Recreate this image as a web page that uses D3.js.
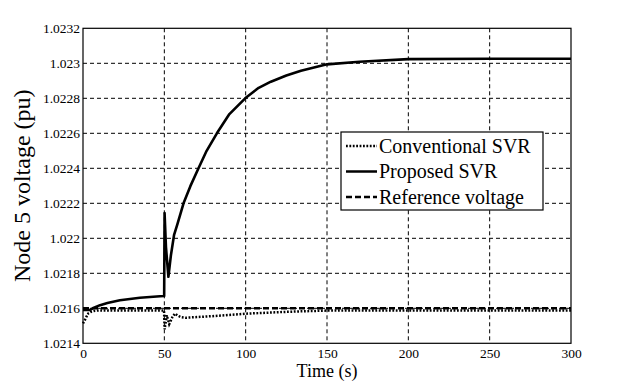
<!DOCTYPE html>
<html>
<head>
<meta charset="utf-8">
<title>Node 5 voltage</title>
<script src="https://cdn.jsdelivr.net/npm/d3@7"></script>
<style>
    body { margin: 0; background: #fff; }
    text { font-family: "Liberation Serif", "Times New Roman", serif; fill: #000; }
</style>
</head>
<body>
<svg id="chart" width="632" height="387"></svg>
<script>
    // values
    const xTicks = [0, 50, 100, 150, 200, 250, 300];
    const yTicks = [1.0214, 1.0216, 1.0218, 1.022, 1.0222, 1.0224, 1.0226, 1.0228, 1.023, 1.0232];
    const yTickLabels = ["1.0214", "1.0216", "1.0218", "1.022", "1.0222", "1.0224", "1.0226", "1.0228", "1.023", "1.0232"];

    // Proposed SVR (solid)
    const tProposed = [0, 4, 6, 10.5, 15, 22.7, 35, 47.3, 49.9, 50.15, 51, 52.5, 54, 56, 58, 61.8, 66, 71, 76, 82.3, 90, 99.7, 108, 115.5, 125, 134, 150, 170, 200, 250, 300];
    const vProposed = [1.02159, 1.02159, 1.0216, 1.021618, 1.02163, 1.021646, 1.02166, 1.021669, 1.02167, 1.022144, 1.02195, 1.02178, 1.0219, 1.02202, 1.02208, 1.0222, 1.022298, 1.0224, 1.0225, 1.0226, 1.02271, 1.0228, 1.02286, 1.022895, 1.02293, 1.022958, 1.022994, 1.023009, 1.023024, 1.023026, 1.023026];

    // Conventional SVR (dotted)
    const tConventional = [0, 1, 2, 3.3, 5, 7.4, 10, 20, 30, 40, 49.8, 50.2, 51.5, 53, 55, 56.5, 58, 60, 63, 70, 81, 90, 100, 118, 135, 150, 200, 250, 300];
    const vConventional = [1.021514, 1.02153, 1.02155, 1.021571, 1.02158, 1.021586, 1.021588, 1.021588, 1.021588, 1.021588, 1.021588, 1.02148, 1.02156, 1.02151, 1.02155, 1.02157, 1.02156, 1.02155, 1.021546, 1.02155, 1.021556, 1.021562, 1.021569, 1.021577, 1.021583, 1.021587, 1.021588, 1.021588, 1.021588];

    // Reference voltage (dashed)
    const tReference = [0, 300];
    const vReference = [1.0216, 1.0216];

    const legendNames = ["Conventional SVR", "Proposed SVR", "Reference voltage"];

    const svg = d3.select("#chart");
    const margin = {left: 83, right: 61, top: 28.3, bottom: 43.7};
    const width = 632 - margin.left - margin.right;
    const height = 387 - margin.top - margin.bottom;
    const serif = '"Liberation Serif", "Times New Roman", serif';

    const x = d3.scaleLinear().domain([0, 300]).range([0, width]);
    const y = d3.scaleLinear().domain([1.0214, 1.0232]).range([height, 0]);

    const g = svg.append("g").attr("transform", `translate(${margin.left},${margin.top})`);

    // grid lines
    g.append("g")
        .selectAll("line")
        .data(xTicks.slice(1, -1))
        .join("line")
        .attr("x1", d => x(d)).attr("x2", d => x(d))
        .attr("y1", 0).attr("y2", height)
        .attr("stroke", "#000").attr("stroke-width", 1).attr("stroke-dasharray", "4,3");
    g.append("g")
        .selectAll("line")
        .data(yTicks.slice(1, -1))
        .join("line")
        .attr("x1", 0).attr("x2", width)
        .attr("y1", d => y(d)).attr("y2", d => y(d))
        .attr("stroke", "#000").attr("stroke-width", 1).attr("stroke-dasharray", "4,3");

    // axes (labels only, frame drawn separately)
    const xAxis = g.append("g")
        .attr("transform", `translate(0,${height})`)
        .call(d3.axisBottom(x).tickValues(xTicks).tickSize(0).tickPadding(5))
        .attr("font-family", null).attr("font-size", null);
    xAxis.select(".domain").remove();
    xAxis.selectAll("text").style("font-size", "13.5px").style("font-family", serif);

    const yAxis = g.append("g")
        .call(d3.axisLeft(y).tickValues(yTicks).tickSize(0).tickPadding(3)
            .tickFormat((d, i) => yTickLabels[i]))
        .attr("font-family", null).attr("font-size", null);
    yAxis.select(".domain").remove();
    yAxis.selectAll("text").style("font-size", "13.5px").style("font-family", serif);

    // curves
    const line = d3.line().x(d => x(d[0])).y(d => y(d[1]));
    const zip = (ts, vs) => ts.map((t, i) => [t, vs[i]]);

    g.append("path")
        .datum(zip(tReference, vReference))
        .attr("d", line).attr("fill", "none")
        .attr("stroke", "#000").attr("stroke-width", 2.5).attr("stroke-dasharray", "6,3");
    g.append("path")
        .datum(zip(tConventional, vConventional))
        .attr("d", line).attr("fill", "none")
        .attr("stroke", "#000").attr("stroke-width", 2.5).attr("stroke-dasharray", "1.8,1.6");
    g.append("path")
        .datum(zip(tProposed, vProposed))
        .attr("d", line).attr("fill", "none")
        .attr("stroke", "#000").attr("stroke-width", 2.6).attr("stroke-linejoin", "round");

    // frame
    g.append("rect")
        .attr("width", width).attr("height", height)
        .attr("fill", "none").attr("stroke", "#000").attr("stroke-width", 1.2);

    // axis titles
    svg.append("text")
        .attr("x", margin.left + width / 2).attr("y", 377)
        .attr("text-anchor", "middle").style("font-size", "18px")
        .text("Time (s)");
    svg.append("text")
        .attr("transform", `translate(30,${margin.top + height / 2}) rotate(-90)`)
        .attr("text-anchor", "middle").style("font-size", "24px")
        .text("Node 5 voltage (pu)");

    // legend
    const legend = svg.append("g").attr("transform", "translate(341,132)");
    legend.append("rect")
        .attr("width", 202).attr("height", 78)
        .attr("fill", "#fff").attr("stroke", "#000").attr("stroke-width", 1.2);
    const dashes = ["1.8,1.6", null, "6,3"];
    legendNames.forEach((name, i) => {
        const cy = 14 + i * 25.5;
        legend.append("line")
            .attr("x1", 5).attr("x2", 36).attr("y1", cy).attr("y2", cy)
            .attr("stroke", "#000").attr("stroke-width", 2.5)
            .attr("stroke-dasharray", dashes[i]);
        legend.append("text")
            .attr("x", 38).attr("y", cy + 6.5)
            .style("font-size", "20px")
            .text(name);
    });
</script>
</body>
</html>
